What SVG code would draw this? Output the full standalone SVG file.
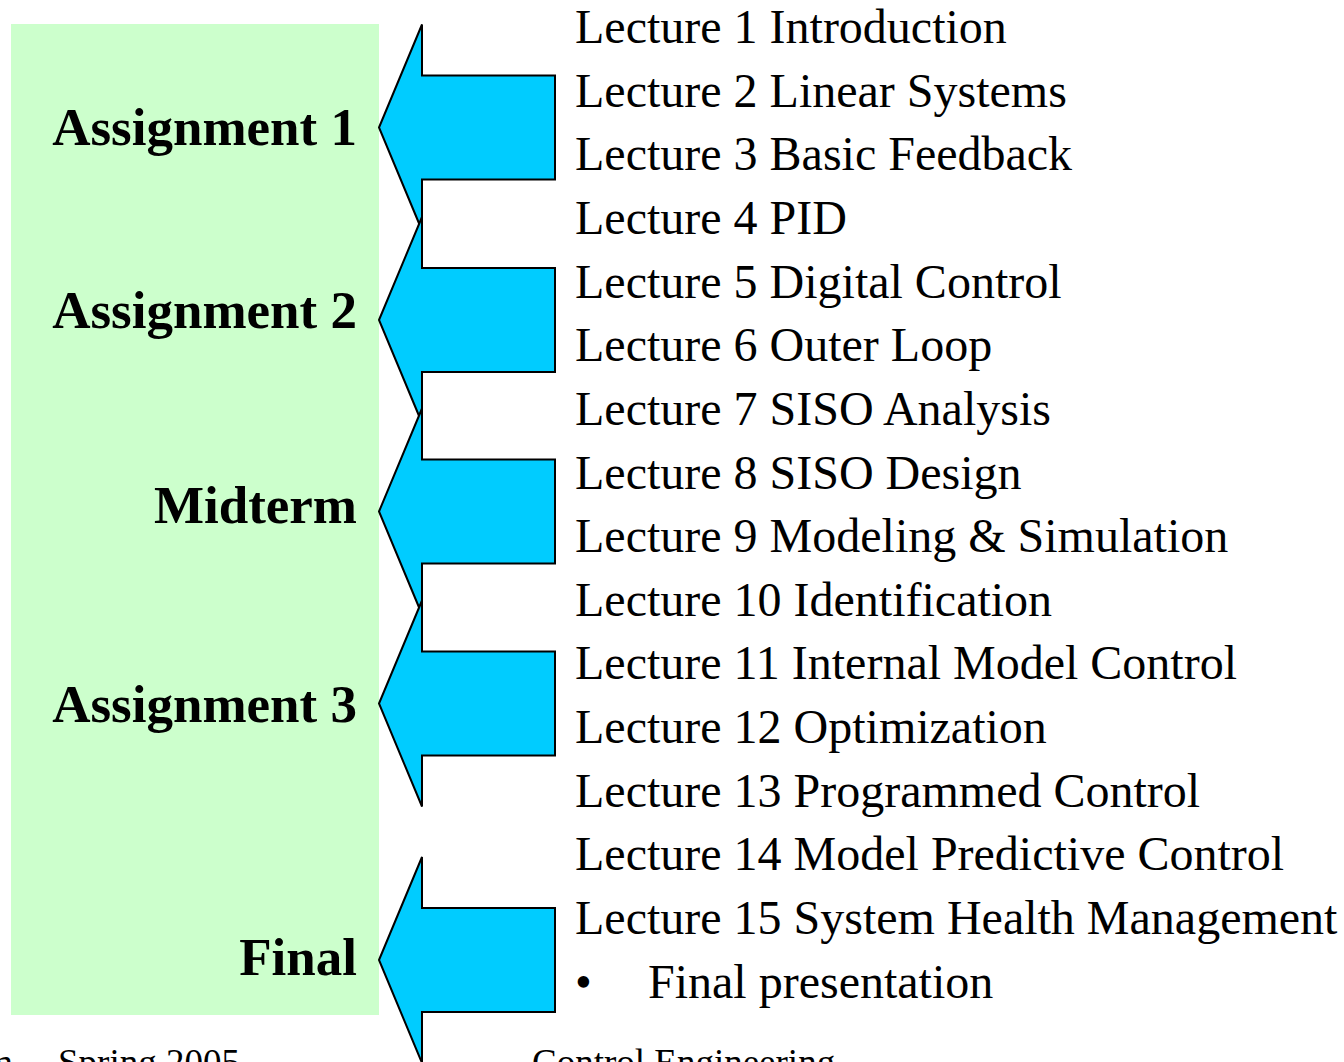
<svg xmlns="http://www.w3.org/2000/svg" width="1344" height="1062" viewBox="0 0 1344 1062">
  <style>
    .panel { fill: #CCFFCC; }
    .arrow { fill: #00CCFF; stroke: #000; stroke-width: 2; stroke-linejoin: miter; }
    .label { font-family: "Liberation Serif", "Times New Roman", serif; font-weight: bold; font-size: 53px; fill: #000; text-anchor: end; }
    .lecture { font-family: "Liberation Serif", "Times New Roman", serif; font-size: 48px; fill: #000; }
    .footer { font-family: "Liberation Serif", "Times New Roman", serif; font-size: 37px; fill: #000; }
  </style>
  <defs>
    <!-- left-pointing block arrow, tip at (0,0) -->
    <polygon id="blockArrow" points="0,0 43,-103 43,-52 176,-52 176,52 43,52 43,103"/>
  </defs>

  <rect class="panel" x="11" y="24" width="368" height="991"/>

  <g id="connectors">
    <use href="#blockArrow" class="arrow" x="379" y="127.5"/>
    <use href="#blockArrow" class="arrow" x="379" y="320"/>
    <use href="#blockArrow" class="arrow" x="379" y="511.5"/>
    <use href="#blockArrow" class="arrow" x="379" y="703.5"/>
    <use href="#blockArrow" class="arrow" x="379" y="960"/>
  </g>

  <g id="assignment1"><text class="label" x="357" y="145">Assignment 1</text></g>
  <g id="assignment2"><text class="label" x="357" y="328">Assignment 2</text></g>
  <g id="midterm"><text class="label" x="357" y="523">Midterm</text></g>
  <g id="assignment3"><text class="label" x="357" y="722">Assignment 3</text></g>
  <g id="final"><text class="label" x="357" y="975">Final</text></g>

  <g id="lectures" class="lecture">
    <text x="575" y="43">Lecture 1 Introduction</text>
    <text x="575" y="106.6">Lecture 2 Linear Systems</text>
    <text x="575" y="170.3">Lecture 3 Basic Feedback</text>
    <text x="575" y="233.9">Lecture 4 PID</text>
    <text x="575" y="297.6">Lecture 5 Digital Control</text>
    <text x="575" y="361.2">Lecture 6 Outer Loop</text>
    <text x="575" y="424.8">Lecture 7 SISO Analysis</text>
    <text x="575" y="488.5">Lecture 8 SISO Design</text>
    <text x="575" y="552.1">Lecture 9 Modeling &amp; Simulation</text>
    <text x="575" y="615.8">Lecture 10 Identification</text>
    <text x="575" y="679.4">Lecture 11 Internal Model Control</text>
    <text x="575" y="743">Lecture 12 Optimization</text>
    <text x="575" y="806.7">Lecture 13 Programmed Control</text>
    <text x="575" y="870.3">Lecture 14 Model Predictive Control</text>
    <text x="575" y="934">Lecture 15 System Health Management</text>
    <text x="575" y="997.6">•</text>
    <text x="648" y="997.6">Final presentation</text>
  </g>

  <!-- page footer, running off the bottom edge -->
  <g id="footer" class="footer">
    <text x="13" y="1075" text-anchor="end">m</text>
    <text x="58" y="1075">Spring 2005</text>
    <text x="532" y="1075">Control Engineering</text>
  </g>
</svg>
